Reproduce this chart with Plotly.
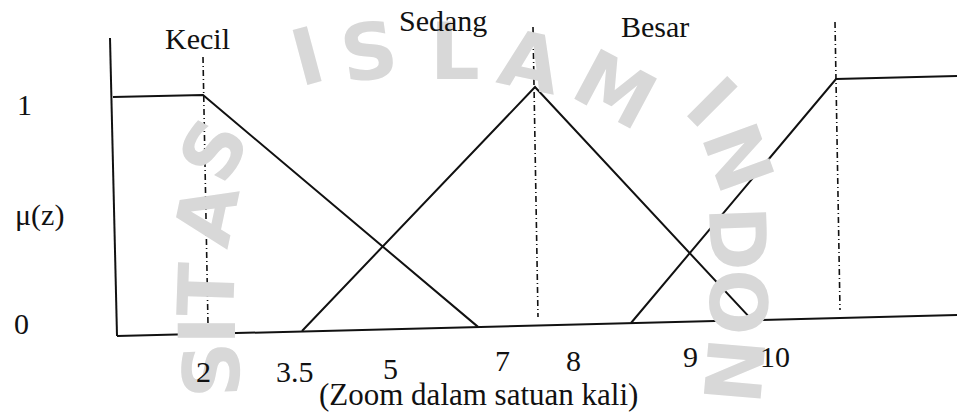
import plotly.graph_objects as go

# Horizontal position along the sketch (not to scale) and membership mu(z),
# read off the hand-drawn diagram (the drawing is slightly tilted).
kecil_x = [1.13, 2.03, 4.78]
kecil_mu = [0.967, 0.975, 0.017]

sedang_x = [3.02, 5.35, 7.51]
sedang_mu = [0.000, 1.008, 0.050]

besar_x = [6.31, 8.36, 9.57]
besar_mu = [0.033, 1.041, 1.054]

# axes of the sketch
axis_y_x = [1.10, 1.17]
axis_y_mu = [1.211, -0.021]
axis_x_x = [1.17, 9.57]
axis_x_mu = [-0.021, 0.066]

# dash-dot guide lines through the set cores
guide_x = [[2.03, 2.08], [5.33, 5.38], [8.35, 8.40]]
guide_mu = [[1.132, 0.025], [1.256, 0.058], [1.277, 0.087]]

set_names = ["Kecil", "Sedang", "Besar"]
set_label_x = [1.97, 4.43, 6.55]
set_label_mu = [1.207, 1.285, 1.260]

tick_labels = ["2", "3.5", "5", "7", "8", "9", "10"]
tick_x = [2.03, 2.95, 3.90, 5.02, 5.73, 6.90, 7.75]
tick_mu = [-0.169, -0.169, -0.153, -0.120, -0.120, -0.107, -0.107]

mu_labels = ["1", "\u03bc(z)", "0"]
mu_label_x = [0.24, 0.39, 0.21]
mu_label_mu = [0.938, 0.479, 0.033]

x_title = "(Zoom dalam satuan kali)"

SERIF = "Liberation Serif"
INK = "#111111"
WM = "#d8d8d8"
W, H = 957, 414

fig = go.Figure()

# faint seal lettering in the background: (letter, x px, y px, angle)
wm_letters = [
    ("I", 307, 57, -15), ("S", 369, 52, -8), ("L", 455, 52, 0),
    ("A", 530, 62, 12), ("M", 615, 90, 28),
    ("I", 711, 102, 45), ("N", 737, 157, 70), ("D", 737, 238, 88),
    ("O", 737, 302, 90), ("N", 733, 370, 95),
    ("S", 214, 150, -62), ("A", 207, 215, -78), ("T", 207, 290, -88),
    ("I", 208, 331, -90), ("S", 212, 370, -92),
]
for ch, px, py, rot in wm_letters:
    fig.add_annotation(
        x=px / W, y=1 - py / H, xref="paper", yref="paper",
        text="<b>" + ch + "</b>", showarrow=False,
        textangle=rot, xanchor="center", yanchor="middle",
        font=dict(family="DejaVu Sans", size=78, color=WM),
    )

line_style = dict(color=INK, width=2)

for xs, ms in [(axis_y_x, axis_y_mu), (axis_x_x, axis_x_mu)]:
    fig.add_trace(go.Scatter(x=xs, y=ms, mode="lines", line=line_style,
                             hoverinfo="skip"))

for xs, ms in zip(guide_x, guide_mu):
    fig.add_trace(go.Scatter(x=xs, y=ms, mode="lines",
                             line=dict(color=INK, width=1.6,
                                       dash="6px,3px,1px,3px"),
                             hoverinfo="skip"))

for name, xs, ms in [("Kecil", kecil_x, kecil_mu),
                     ("Sedang", sedang_x, sedang_mu),
                     ("Besar", besar_x, besar_mu)]:
    fig.add_trace(go.Scatter(x=xs, y=ms, mode="lines", name=name,
                             line=line_style))

text_font = dict(family=SERIF, size=30, color=INK)

for name, x, m in zip(set_names, set_label_x, set_label_mu):
    fig.add_annotation(x=x, y=m, text=name, showarrow=False, font=text_font,
                       xanchor="center", yanchor="middle")

for lab, x, m in zip(tick_labels, tick_x, tick_mu):
    fig.add_annotation(x=x, y=m, text=lab, showarrow=False, font=text_font,
                       xanchor="center", yanchor="middle")

for lab, x, m in zip(mu_labels, mu_label_x, mu_label_mu):
    fig.add_annotation(x=x, y=m, text=lab, showarrow=False, font=text_font,
                       xanchor="center", yanchor="middle")

fig.add_annotation(x=4.78, y=-0.264, text=x_title, showarrow=False,
                   font=dict(family=SERIF, size=31, color=INK),
                   xanchor="center", yanchor="middle")

fig.update_layout(
    width=W, height=H,
    margin=dict(l=0, r=0, t=0, b=0),
    paper_bgcolor="white", plot_bgcolor="white",
    showlegend=False,
    xaxis=dict(range=[0, 9.57], visible=False, fixedrange=True),
    yaxis=dict(range=[-0.343, 1.3678], visible=False, fixedrange=True),
)

fig.write_html("out.html")
